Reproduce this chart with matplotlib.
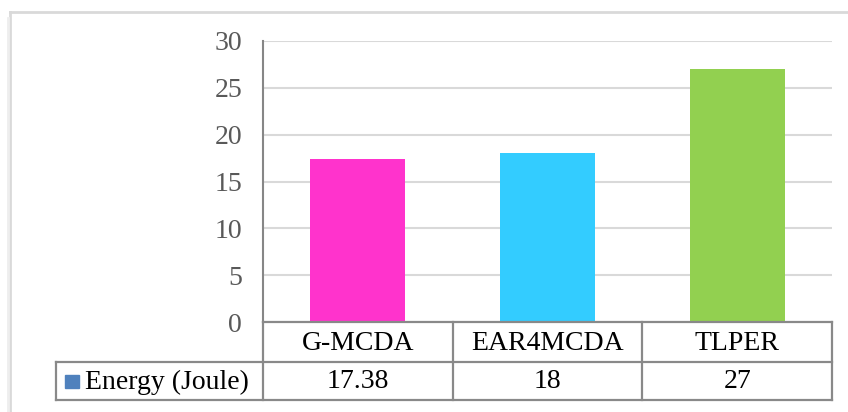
import numpy as np
import matplotlib
matplotlib.use("Agg")
import matplotlib.pyplot as plt
from matplotlib.lines import Line2D

# data
categories = ["G-MCDA", "EAR4MCDA", "TLPER"]
energy = [17.38, 18, 27]
series_name = "Energy (Joule)"
bar_colors = ["#FF33CC", "#33CCFF", "#92D050"]
yticks = [0, 5, 10, 15, 20, 25, 30]

plt.rcParams['font.family'] = ['Liberation Serif', 'DejaVu Serif']

W, H = 848, 412
fig = plt.figure(figsize=(W / 100, H / 100), dpi=100)

# plot area in pixels
left, right, top, bottom = 263, 832, 41, 322
ax = fig.add_axes([left / W, 1 - bottom / H, (right - left) / W, (bottom - top) / H])

x = np.arange(len(categories))
ax.bar(x, energy, width=0.5, color=bar_colors, zorder=3)
ax.set_xlim(-0.5, len(categories) - 0.5)
ax.set_ylim(0, 30)
ax.set_yticks(yticks)
ax.set_xticks([])
ax.grid(axis='y', color='#D9D9D9', linewidth=1.5, zorder=0)
for s in ['top', 'right', 'bottom']:
    ax.spines[s].set_visible(False)
ax.spines['left'].set_color('#868686')
ax.spines['left'].set_linewidth(1.5)
ax.tick_params(axis='y', length=0, pad=15, labelsize=20, labelcolor='#595959')

# data table below the plot, in pixel coords
row_mid = 362
row_bot = 400
tab_left = 56
tab = fig.add_axes([0, 0, 1, 1], facecolor='none')
tab.set_xlim(0, W)
tab.set_ylim(H, 0)
tab.axis('off')

# column edges from the category positions
edges = [left + (right - left) * (i / len(categories)) for i in range(len(categories) + 1)]
lc = '#898989'
lw = 1.6
tab.add_line(Line2D([left, right], [bottom, bottom], color=lc, lw=lw))
tab.add_line(Line2D([tab_left, right], [row_mid, row_mid], color=lc, lw=lw))
tab.add_line(Line2D([tab_left, right], [row_bot, row_bot], color=lc, lw=lw))
tab.add_line(Line2D([tab_left, tab_left], [row_mid, row_bot], color=lc, lw=lw))
for e in edges:
    tab.add_line(Line2D([e, e], [bottom, row_bot], color=lc, lw=lw))

for i, (c, v) in enumerate(zip(categories, energy)):
    cx = (edges[i] + edges[i + 1]) / 2
    tab.text(cx, (bottom + row_mid) / 2 + 1, c, ha='center', va='center', fontsize=20, color='black')
    tab.text(cx, (row_mid + row_bot) / 2 + 1, f"{v:g}", ha='center', va='center', fontsize=20, color='black')

# legend key + series name
tab.add_patch(plt.Rectangle((65, 375), 14, 13, color='#4F81BD'))
tab.text(85, (row_mid + row_bot) / 2 + 1, series_name, ha='left', va='center', fontsize=20, color='black')

# outer chart frame (top and left edges visible)
tab.add_line(Line2D([10, W], [12, 12], color='#D9D9D9', lw=2))
tab.add_line(Line2D([10, 10], [12, H], color='#D9D9D9', lw=2))
tab.add_line(Line2D([8, 8], [18, H], color='#EEEEEE', lw=2))

fig.savefig("out.png", dpi=100)
